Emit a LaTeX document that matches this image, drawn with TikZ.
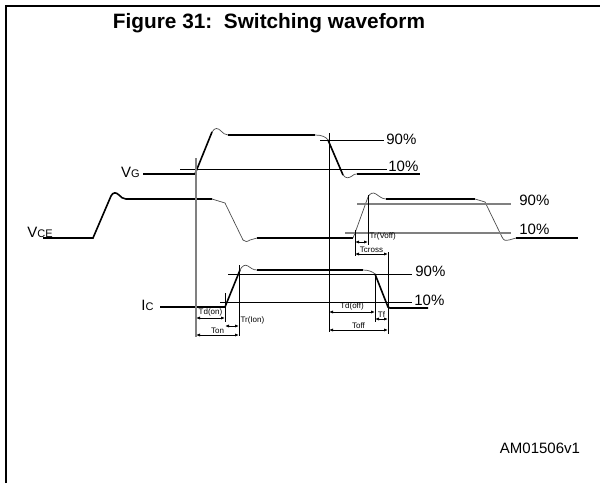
\documentclass[tikz,border=0pt]{standalone}
\usepackage{fontspec}
\setmainfont{Liberation Sans}
\usetikzlibrary{arrows.meta}
\begin{document}
\begin{tikzpicture}[x=0.5pt, y=-0.5pt,
    wave/.style={line width=0.8pt},
    knee/.style={line width=0.35pt, gray!60!black},
    level/.style={line width=0.5pt},
    glevel/.style={line width=0.8pt, gray},
    marker/.style={line width=0.5pt},
    gmarker/.style={line width=0.8pt, gray},
    dim/.style={line width=0.4pt, {Latex[length=2pt,width=1.6pt]}-{Latex[length=2pt,width=1.6pt]}},
    pct/.style={font=\fontsize{7.5}{8}\selectfont, anchor=west, inner sep=0pt},
    sig/.style={font=\fontsize{7.5}{8}\selectfont, inner sep=0pt},
    tiny/.style={font=\fontsize{4}{4.5}\selectfont, inner sep=0.6pt}]
  \useasboundingbox (0,0) rectangle (600,483);

  % Frame and title
  \draw[line width=1pt] (6,483) -- (6,6) -- (600,6);
  \node[font=\fontsize{10.4}{12}\selectfont\bfseries] (title) at (269,23) {Figure 31:\ \ Switching waveform};

  % Gate voltage
  \node[sig, anchor=base east] (vg) at (140,177) {V{\fontsize{5.5}{6}\selectfont G}};
  \draw[wave] (143,174) -- (195,174) -- (212,132);
  \draw[knee] (212,132) .. controls (215,127) and (218,128) .. (221,131) .. controls (223,133) and (225,135) .. (228,135);
  \draw[wave] (228,135) -- (315,135);
  \draw[knee] (315,135) .. controls (322,135) and (326,137) .. (328,140);
  \draw[wave] (328,140) -- (343,175);
  \draw[knee] (343,175) .. controls (346,179) and (349,178) .. (352,176) .. controls (354,174) and (355,174) .. (357,174);
  \draw[wave] (357,174) -- (420,174);
  \draw[level] (320,140) -- (384,140);
  \draw[level] (180,169) -- (387,169);
  \node[pct] (vg90) at (386,139) {90\%};
  \node[pct] (vg10) at (388,166) {10\%};

  % Collector-emitter voltage
  \node[sig, anchor=base west] (vce) at (27,237) {V{\fontsize{5.5}{6}\selectfont CE}};
  \draw[wave] (43,238) -- (93,238) -- (111,196) .. controls (113,192) and (116,192) .. (119,195) .. controls (121,197) and (123,199) .. (126,199) -- (212,199);
  \draw[knee] (212,199) -- (225,203) -- (243,240) .. controls (245,242) and (247,242) .. (250,240) -- (257,238);
  \draw[wave] (257,238) -- (353,238);
  \draw[knee] (353,238) -- (355,233) -- (368,197) .. controls (370,193) and (373,192) .. (376,194) .. controls (379,196) and (382,199) .. (386,199);
  \draw[wave] (386,199) -- (475,199);
  \draw[knee] (475,199) -- (485,202) -- (502,237) .. controls (504,241) and (506,241) .. (509,240) -- (516,238);
  \draw[wave] (516,238) -- (578,238);
  \draw[glevel] (357,204) -- (511,204);
  \draw[glevel] (345,233) -- (511,233);
  \node[pct] (vce90) at (519,200) {90\%};
  \node[pct] (vce10) at (519,229) {10\%};

  % Collector current
  \node[sig, anchor=base east] (ic) at (154,310) {I{\fontsize{5.5}{6}\selectfont C}};
  \draw[wave] (160,307) -- (225,307) -- (240,270);
  \draw[knee] (240,270) .. controls (242,266) and (245,264) .. (248,266) .. controls (251,268) and (253,270) .. (257,270);
  \draw[wave] (257,270) -- (363,270);
  \draw[knee] (363,270) .. controls (369,270) and (373,272) .. (375,274);
  \draw[wave] (375,274) -- (388,307) -- (390,308) -- (428,308);
  \draw[level] (228,274) -- (412,274);
  \draw[level] (220,302) -- (412,302);
  \node[pct] (ic90) at (415,271) {90\%};
  \node[pct] (ic10) at (414,300) {10\%};

  % Time markers
  \draw[gmarker] (196,158) -- (196,337);
  \draw[marker] (329,133) -- (329,332);
  \draw[marker] (225,293) -- (225,322);
  \draw[marker] (239,265) -- (239,336);
  \draw[marker] (375,274) -- (375,322);
  \draw[marker] (388,252) -- (388,334);
  \draw[marker] (355,230) -- (355,256);
  \draw[marker] (368,195) -- (368,245);

  % Intervals
  \coordinate (tdon1) at (196,318); \coordinate (tdon2) at (225,318);
  \coordinate (tron1) at (225,326); \coordinate (tron2) at (239,326);
  \coordinate (ton1) at (196,335);  \coordinate (ton2) at (239,335);
  \coordinate (tdoff1) at (329,312); \coordinate (tdoff2) at (375,312);
  \coordinate (tf1) at (375,319);   \coordinate (tf2) at (388,319);
  \coordinate (toff1) at (329,330); \coordinate (toff2) at (388,330);
  \coordinate (trv1) at (355,242);  \coordinate (trv2) at (368,242);
  \coordinate (tc1) at (355,254);   \coordinate (tc2) at (388,254);
  \draw[dim] (tdon1) -- node[tiny, above] (ltdon) {Td(on)} (tdon2);
  \draw[dim] (tron1) -- (tron2) node[tiny, anchor=south west] (ltron) {Tr(Ion)};
  \draw[dim] (ton1) -- node[tiny, above] (lton) {Ton} (ton2);
  \draw[dim] (tdoff1) -- node[tiny, above] (ltdoff) {Td(off)} (tdoff2);
  \draw[dim] (tf1) -- node[tiny, above] (ltf) {Tf} (tf2);
  \draw[dim] (toff1) -- node[tiny, above] (ltoff) {Toff} (toff2);
  \draw[dim] (trv1) -- (trv2) node[tiny, anchor=south west] (ltrv) {Tr(Voff)};
  \draw[dim] (tc1) -- node[tiny, above] (ltc) {Tcross} (tc2);

  \node[font=\fontsize{7.5}{8}\selectfont] (ref) at (540,448) {AM01506v1};
\end{tikzpicture}
\end{document}
